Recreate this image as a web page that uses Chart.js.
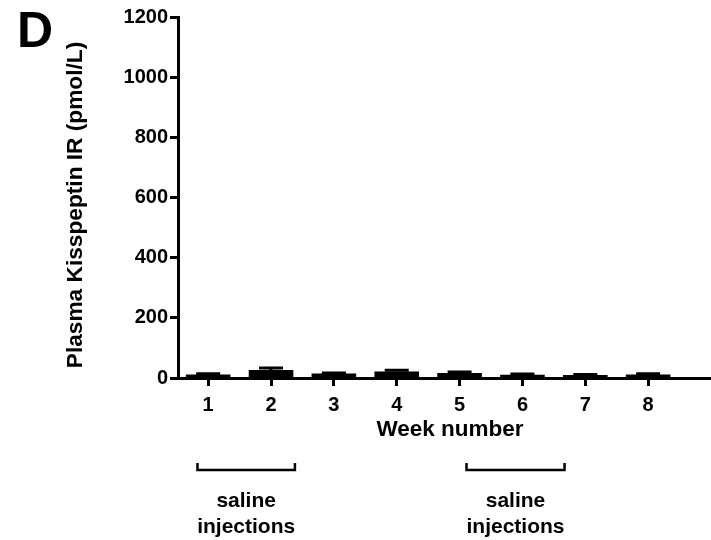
<!DOCTYPE html>
<html>
<head>
<meta charset="utf-8">
<script src="https://cdn.jsdelivr.net/npm/chart.js@4.4.1/dist/chart.umd.min.js"></script>
<style>
    html, body { margin: 0; padding: 0; background: #fff; }
    canvas { display: block; }
</style>
</head>
<body>
<canvas id="chart-kiss" width="711" height="540"></canvas>
<script>
const weeks = [1, 2, 3, 4, 5, 6, 7, 8];
const meanKiss = [12, 27, 15, 22, 17, 11, 10, 12];
const semKiss = [2, 6, 2, 4, 3, 2, 2, 2];
const injectionSpans = [[0.83, 2.38], [5.11, 6.67]];
const injectionText = ['saline', 'injections'];
const xTitle = 'Week number';
const yTitle = 'Plasma Kisspeptin IR (pmol/L)';

const FONT = "'Liberation Sans', Arial, Helvetica, sans-serif";

document.addEventListener('DOMContentLoaded', function () {
    const canvas = document.getElementById('chart-kiss');
    const ctx = canvas.getContext('2d');

    // error bars on top of each bar (mean + SEM)
    const errorBars = {
        id: 'errorBars',
        afterDatasetsDraw(chart) {
            const x = chart.scales.x, y = chart.scales.y;
            const c = chart.ctx;
            c.save();
            c.strokeStyle = '#000';
            c.lineWidth = 3;
            weeks.forEach((w, i) => {
                const px = x.getPixelForValue(w);
                const top = y.getPixelForValue(meanKiss[i] + semKiss[i]);
                const base = y.getPixelForValue(meanKiss[i]);
                c.beginPath();
                c.moveTo(px, base);
                c.lineTo(px, top);
                c.moveTo(px - 12, top);
                c.lineTo(px + 12, top);
                c.stroke();
            });
            c.restore();
        }
    };

    // panel letter, axis titles and the saline injection brackets
    const extras = {
        id: 'extras',
        afterDraw(chart) {
            const x = chart.scales.x;
            const c = chart.ctx;
            c.save();
            c.fillStyle = '#000';
            c.font = 'bold 50px ' + FONT;
            c.textAlign = 'left';
            c.textBaseline = 'alphabetic';
            c.fillText('D', 17, 47);

            c.textAlign = 'center';
            c.textBaseline = 'middle';
            c.font = 'bold 22.5px ' + FONT;
            c.fillText(xTitle, 450, 430);

            c.save();
            c.translate(76, 205);
            c.rotate(-Math.PI / 2);
            c.font = 'bold 22.7px ' + FONT;
            c.fillText(yTitle, 0, 0);
            c.restore();

            c.strokeStyle = '#000';
            c.lineWidth = 2.5;
            c.font = 'bold 21px ' + FONT;
            injectionSpans.forEach(span => {
                const x0 = x.getPixelForValue(span[0]);
                const x1 = x.getPixelForValue(span[1]);
                c.beginPath();
                c.moveTo(x0, 463);
                c.lineTo(x0, 470);
                c.lineTo(x1, 470);
                c.lineTo(x1, 463);
                c.stroke();
                const mid = (x0 + x1) / 2;
                c.fillText(injectionText[0], mid, 501);
                c.fillText(injectionText[1], mid, 527);
            });
            c.restore();
        }
    };

    new Chart(ctx, {
        type: 'bar',
        data: {
            datasets: [{
                label: 'Plasma Kisspeptin IR',
                data: weeks.map((w, i) => ({ x: w, y: meanKiss[i] })),
                backgroundColor: '#000',
                borderWidth: 0,
                barPercentage: 0.71,
                categoryPercentage: 1
            }]
        },
        options: {
            responsive: false,
            animation: false,
            layout: {
                padding: { left: 64, top: 17, right: 0, bottom: 96 }
            },
            plugins: {
                legend: { display: false },
                tooltip: { enabled: false }
            },
            scales: {
                x: {
                    type: 'linear',
                    offset: false,
                    min: 0.52,
                    max: 9.0,
                    afterBuildTicks: function (scale) {
                        scale.ticks = weeks.map(w => ({ value: w }));
                    },
                    afterFit: function (scale) {
                        scale.height = 66;
                    },
                    ticks: {
                        color: '#000',
                        font: { family: FONT, size: 20, weight: 'bold' },
                        padding: 7,
                        maxRotation: 0,
                        callback: v => String(v)
                    },
                    grid: {
                        offset: false,
                        drawOnChartArea: false,
                        tickLength: 8,
                        tickWidth: 3,
                        tickColor: '#000'
                    },
                    border: { color: '#000', width: 3 },
                    title: { display: false }
                },
                y: {
                    min: 0,
                    max: 1200,
                    afterFit: function (scale) {
                        scale.width = 114;
                    },
                    ticks: {
                        stepSize: 200,
                        color: '#000',
                        font: { family: FONT, size: 20, weight: 'bold' },
                        padding: 2,
                        callback: v => String(v)
                    },
                    grid: {
                        drawOnChartArea: false,
                        tickLength: 8,
                        tickWidth: 3,
                        tickColor: '#000'
                    },
                    border: { color: '#000', width: 3 },
                    title: { display: false }
                }
            }
        },
        plugins: [errorBars, extras]
    });
});
</script>
</body>
</html>
